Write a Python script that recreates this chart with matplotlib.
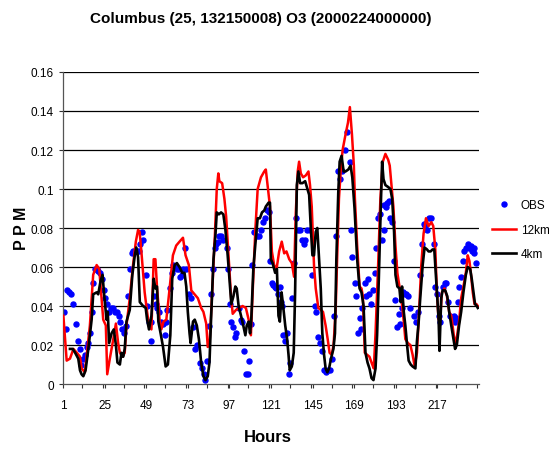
import matplotlib
matplotlib.use("Agg")
import matplotlib.pyplot as plt
from matplotlib.ticker import MultipleLocator, FixedLocator

plt.rcParams['font.family'] = ['Liberation Sans Narrow', 'Liberation Sans', 'DejaVu Sans']

# hours / ppm
hours_12km = [1.2, 3.1, 5, 7, 9, 10.8, 11.7, 13.6, 16.5, 18.4, 20.4, 21.9, 23.2, 24.2, 25.7, 26.5, 28, 30,
              31.5, 32.8, 33.8, 35.3, 36.6, 37.6, 39.5, 41.4, 43, 44.3, 45.2, 46.2, 48.1, 49.5, 50.6, 52,
              53.3, 54.3, 55.2, 56.7, 57.7, 59, 60.6, 62.5, 64.4, 66.3, 68.2, 70.2, 71.7, 73.6, 75, 76.9,
              78.8, 80.7, 82, 83.6, 84.5, 85.5, 87, 88.6, 89.7, 90.6, 91.2, 92.8, 94.1, 95.1, 96.6, 98,
              98.9, 100.8, 102.7, 104.6, 106.5, 108.1, 109.4, 110.4, 111.9, 113.3, 115.2, 117.1, 118, 119,
              120.4, 121.5, 122.8, 124.2, 125.7, 127.2, 128.6, 129.9, 131.5, 133, 134.3, 135.3, 136.4,
              137.2, 138.2, 139.5, 141.1, 142.6, 143.5, 144.5, 145.8, 146.8, 148.3, 149.7, 151, 152.5,
              153.7, 154.8, 156, 157.1, 158.3, 159.2, 160.2, 161.2, 162.3, 164, 165.4, 166.5, 167.7,
              168.8, 169.4, 170.7, 172.1, 173.2, 174, 175.1, 176.5, 177.8, 179.4, 180.3, 181.3, 182.8,
              184.1, 185.5, 187, 188.6, 189.5, 190.5, 191.6, 192.8, 193.9, 195.1, 196.2, 197.6, 198.5,
              200, 201.4, 202.7, 203.9, 205.2, 206.2, 207.7, 209, 210.4, 211.9, 213.5, 214.6, 215.8,
              216.7, 217.7, 218.6, 219.6, 221.1, 222.5, 223.8, 225, 226.3, 227.2, 228.4, 229.5, 230.7,
              232, 233.4, 234.5, 235.5, 236.4, 237.4, 238.4, 239.5, 240.3]
ppm_12km = [0.035, 0.012, 0.013, 0.018, 0.016, 0.014, 0.008, 0.006, 0.030, 0.056, 0.061, 0.059, 0.044, 0.033,
            0.030, 0.005, 0.013, 0.023, 0.031, 0.021, 0.016, 0.014, 0.016, 0.030, 0.044, 0.061, 0.073, 0.079,
            0.078, 0.068, 0.047, 0.037, 0.030, 0.028, 0.064, 0.064, 0.050, 0.033, 0.028, 0.032, 0.033, 0.049,
            0.066, 0.071, 0.073, 0.075, 0.066, 0.061, 0.048, 0.046, 0.044, 0.039, 0.037, 0.031, 0.019, 0.020,
            0.046, 0.076, 0.100, 0.108, 0.104, 0.103, 0.095, 0.086, 0.064, 0.044, 0.036, 0.038, 0.039, 0.040,
            0.039, 0.033, 0.025, 0.047, 0.078, 0.100, 0.106, 0.109, 0.110, 0.102, 0.091, 0.068, 0.061, 0.059,
            0.068, 0.073, 0.067, 0.068, 0.064, 0.062, 0.055, 0.088, 0.109, 0.114, 0.108, 0.106, 0.107, 0.109,
            0.102, 0.091, 0.061, 0.049, 0.039, 0.038, 0.037, 0.030, 0.023, 0.016, 0.015, 0.020, 0.038, 0.066,
            0.095, 0.109, 0.120, 0.128, 0.134, 0.142, 0.128, 0.112, 0.095, 0.071, 0.050, 0.049, 0.045, 0.016,
            0.015, 0.014, 0.010, 0.008, 0.026, 0.061, 0.095, 0.114, 0.118, 0.115, 0.112, 0.102, 0.091, 0.071,
            0.057, 0.050, 0.044, 0.032, 0.023, 0.021, 0.020, 0.015, 0.009, 0.016, 0.033, 0.061, 0.077, 0.085,
            0.081, 0.083, 0.081, 0.069, 0.047, 0.033, 0.033, 0.047, 0.049, 0.045, 0.037, 0.035, 0.026, 0.020,
            0.025, 0.032, 0.044, 0.050, 0.057, 0.066, 0.063, 0.056, 0.047, 0.041, 0.041, 0.040]

hours_4km = [5, 6.6, 8, 9.8, 10.8, 11.7, 12.7, 14, 15.6, 17.5, 18.4, 20.4, 21.3, 22.7, 23.8, 24.6, 26.1, 26.8,
             27.6, 29, 30.3, 31.5, 32.4, 33.8, 34.7, 35.7, 36.6, 37.6, 39.5, 41, 42.4, 43.3, 44.3, 45.3,
             47.2, 48.7, 49.5, 50.6, 52, 53.3, 54.3, 55.2, 56, 57.3, 58.7, 60.2, 61.5, 62.9, 64, 65.4, 66.7,
             68.2, 69.8, 71.1, 72.1, 73, 74, 74.6, 76, 77, 78.2, 79.4, 80.7, 82, 83.2, 84.5, 85.5, 86.4,
             87.8, 88.9, 89.7, 90.9, 92.2, 93.5, 94.7, 96, 97.4, 98.1, 99.3, 100.4, 101.2, 102.3, 103.7, 105,
             106.2, 107, 108.1, 108.9, 109.6, 110.8, 111.9, 113.3, 114.6, 115.8, 117.1, 118, 119.6, 120.4,
             120.9, 121.9, 123.4, 124.4, 125.3, 126.1, 127.1, 128, 129.2, 130.3, 131.1, 131.8, 133, 134.1,
             134.9, 135.9, 136.8, 137.8, 139.1, 140.7, 142, 143, 143.9, 144.9, 145.8, 146.8, 147.7, 148.7,
             149.7, 150.6, 151.6, 152.5, 153.5, 154.5, 155.6, 157, 157.9, 158.7, 159.8, 160.6, 161.7, 162.9,
             164, 165.6, 166.9, 167.9, 169.2, 170.7, 172.1, 173.2, 174.4, 175.5, 176.7, 177.8, 179, 180.1,
             181.3, 182.2, 183.2, 184.3, 185.1, 185.9, 187, 188.6, 189.9, 190.9, 192, 192.8, 193.9, 195.1,
             195.8, 196.6, 197.6, 198.5, 199.5, 200.4, 201.6, 202.7, 204.3, 205.2, 206.2, 207.1, 208.5,
             209.6, 211, 211.9, 213.1, 214.2, 215.2, 216.1, 216.9, 217.7, 218.2, 219.2, 220, 221.5, 222.7,
             223.8, 225, 226.3, 227.2, 228.2, 229.5, 230.7, 232, 233.4, 234.5, 235.9, 236.8, 237.8, 238.7,
             239.7, 240.3]
ppm_4km = [0.018, 0.018, 0.016, 0.013, 0.007, 0.005, 0.004, 0.007, 0.018, 0.033, 0.046, 0.047, 0.046, 0.053,
           0.056, 0.047, 0.033, 0.037, 0.021, 0.026, 0.028, 0.020, 0.011, 0.010, 0.016, 0.014, 0.018, 0.032,
           0.038, 0.056, 0.066, 0.070, 0.065, 0.042, 0.040, 0.039, 0.033, 0.028, 0.035, 0.054, 0.049, 0.050,
           0.032, 0.026, 0.019, 0.009, 0.010, 0.025, 0.054, 0.061, 0.062, 0.060, 0.057, 0.057, 0.050, 0.037,
           0.026, 0.021, 0.032, 0.033, 0.030, 0.023, 0.011, 0.004, 0.002, 0.004, 0.011, 0.033, 0.064, 0.076,
           0.088, 0.087, 0.088, 0.087, 0.079, 0.066, 0.049, 0.041, 0.045, 0.050, 0.049, 0.040, 0.035, 0.030,
           0.025, 0.030, 0.032, 0.026, 0.033, 0.059, 0.071, 0.085, 0.085, 0.088, 0.089, 0.091, 0.093, 0.093,
           0.064, 0.062, 0.057, 0.059, 0.035, 0.032, 0.047, 0.040, 0.030, 0.023, 0.015, 0.007, 0.009, 0.016,
           0.047, 0.102, 0.109, 0.103, 0.103, 0.104, 0.100, 0.097, 0.081, 0.066, 0.066, 0.078, 0.080, 0.064,
           0.049, 0.026, 0.015, 0.008, 0.006, 0.008, 0.013, 0.018, 0.026, 0.064, 0.098, 0.114, 0.117, 0.109,
           0.109, 0.110, 0.112, 0.106, 0.090, 0.064, 0.049, 0.047, 0.040, 0.016, 0.011, 0.008, 0.003, 0.002,
           0.008, 0.025, 0.054, 0.090, 0.114, 0.105, 0.102, 0.101, 0.100, 0.095, 0.078, 0.056, 0.050, 0.049,
           0.042, 0.050, 0.037, 0.030, 0.020, 0.012, 0.010, 0.009, 0.008, 0.022, 0.032, 0.044, 0.061, 0.070,
           0.069, 0.068, 0.068, 0.069, 0.069, 0.056, 0.044, 0.033, 0.017, 0.044, 0.048, 0.048, 0.045, 0.037,
           0.030, 0.023, 0.018, 0.020, 0.030, 0.037, 0.047, 0.056, 0.060, 0.059, 0.054, 0.047, 0.041, 0.040,
           0.039]

hours_obs = [1.6, 2.5, 3.5, 4.6, 5.8, 6.6, 8.3, 9.8, 10.8, 11.5, 12.7, 13.6, 14.6, 15.4, 16.5, 17.7, 18.2, 19.2,
             20.4, 21.3, 22.5, 23.4, 24.4, 25.3, 26.3, 27.4, 28.6, 30, 30.9, 32.2, 33.4, 34.1, 35.3, 36.4,
             37.2, 38.6, 39.5, 40.7, 41.4, 42.6, 43.7, 44.9, 45.3, 46.4, 47.4, 48.7, 49.5, 50.6, 51.6, 52,
             53.3, 54.4, 55.4, 56.4, 57.3, 58.7, 59.6, 60.2, 61.2, 62.5, 63.6, 64.4, 65.6, 66.7, 67.9, 68.6,
             69.4, 70.5, 71.1, 72.1, 73.6, 74.8, 76, 77.3, 78.2, 80.1, 81.3, 82.6, 83.2, 84.1, 85.3, 86.4,
             87.4, 88.4, 89.3, 90.3, 91.2, 92.2, 93.5, 95.4, 96.4, 97.4, 98.1, 99.3, 100.1, 100.8, 102.3,
             103.7, 104.3, 105.2, 106.6, 107.5, 108.1, 109.4, 110, 111.3, 112.7, 113.8, 115.2, 116.5, 117.5,
             118.4, 119.6, 120.4, 121.3, 122.3, 123.2, 124, 125.2, 126, 126.6, 127.6, 128.2, 129.2, 130.1,
             131.1, 131.8, 133, 134.1, 135.3, 136.6, 137.8, 139.1, 139.9, 140.7, 142, 143.3, 144.9, 146.2,
             147.2, 147.9, 149.1, 150.2, 151.8, 152.9, 153.9, 154.8, 156, 157.1, 158.3, 159.6, 160.8, 162.1,
             163.6, 165, 166.3, 166.9, 167.9, 169.2, 170.2, 170.9, 172.1, 173, 173.6, 175, 175.9, 177.1,
             177.8, 178.8, 179.9, 180.9, 181.8, 182.8, 183.8, 185.1, 185.9, 186.4, 187.4, 188.2, 189.1,
             189.7, 190.9, 192, 192.8, 193.7, 194.7, 195.6, 196.6, 197.4, 198.1, 198.9, 200, 201.4, 203.3,
             204.6, 205.8, 206.9, 208.1, 209, 210, 211, 212.3, 213.5, 215, 215.4, 216.7, 217.7, 218.6, 220,
             221.1, 221.9, 223, 224.4, 225.3, 226.3, 227.2, 227.6, 228.8, 229.5, 230.7, 231.8, 232.6, 233.6,
             234.5, 235.3, 236.2, 237.2, 238.2, 238.4, 239.5]
ppm_obs = [0.037, 0.028, 0.048, 0.047, 0.046, 0.041, 0.031, 0.022, 0.018, 0.010, 0.013, 0.015, 0.019, 0.021,
           0.026, 0.037, 0.052, 0.059, 0.059, 0.058, 0.057, 0.054, 0.048, 0.044, 0.041, 0.037, 0.039, 0.039,
           0.037, 0.037, 0.035, 0.032, 0.028, 0.026, 0.030, 0.045, 0.059, 0.067, 0.068, 0.068, 0.068, 0.068,
           0.072, 0.078, 0.074, 0.056, 0.040, 0.032, 0.022, 0.032, 0.045, 0.041, 0.039, 0.037, 0.032, 0.031,
           0.025, 0.032, 0.038, 0.049, 0.057, 0.061, 0.060, 0.059, 0.059, 0.055, 0.056, 0.059, 0.070, 0.059,
           0.046, 0.044, 0.029, 0.018, 0.020, 0.011, 0.008, 0.005, 0.002, 0.012, 0.030, 0.046, 0.059, 0.070,
           0.072, 0.073, 0.076, 0.076, 0.074, 0.070, 0.059, 0.041, 0.032, 0.029, 0.024, 0.026, 0.039, 0.033,
           0.032, 0.017, 0.005, 0.005, 0.012, 0.031, 0.061, 0.078, 0.076, 0.076, 0.079, 0.083, 0.085, 0.089,
           0.088, 0.063, 0.052, 0.051, 0.050, 0.049, 0.046, 0.050, 0.042, 0.040, 0.025, 0.022, 0.026, 0.005,
           0.011, 0.044, 0.062, 0.085, 0.079, 0.079, 0.074, 0.072, 0.074, 0.079, 0.079, 0.056, 0.040, 0.037,
           0.024, 0.021, 0.017, 0.007, 0.006, 0.007, 0.007, 0.013, 0.035, 0.076, 0.109, 0.105, 0.109, 0.120,
           0.129, 0.114, 0.079, 0.065, 0.052, 0.045, 0.026, 0.034, 0.028, 0.039, 0.052, 0.045, 0.054, 0.046,
           0.041, 0.048, 0.057, 0.070, 0.085, 0.087, 0.074, 0.079, 0.092, 0.091, 0.093, 0.094, 0.085, 0.083,
           0.063, 0.043, 0.029, 0.036, 0.031, 0.039, 0.047, 0.046, 0.046, 0.045, 0.039, 0.035, 0.032, 0.037,
           0.056, 0.072, 0.082, 0.081, 0.079, 0.085, 0.085, 0.072, 0.050, 0.046, 0.035, 0.032, 0.050, 0.052,
           0.052, 0.042, 0.035, 0.034, 0.035, 0.032, 0.034, 0.042, 0.050, 0.055, 0.063, 0.068, 0.070, 0.072,
           0.070, 0.071, 0.068, 0.070, 0.067, 0.062]

tick_hours = [1, 25, 49, 73, 97, 121, 145, 169, 193, 217]
ppm_ticks = [0, 0.02, 0.04, 0.06, 0.08, 0.10, 0.12, 0.14, 0.16]
ppm_tick_labels = ['0', '0.02', '0.04', '0.06', '0.08', '0.1', '0.12', '0.14', '0.16']

fig = plt.figure(figsize=(5.49, 4.52), dpi=100)
ax = fig.add_axes([0.1148, 0.1482, 0.7577, 0.6903])

# horizontal gridlines like the spreadsheet chart
for g in ppm_ticks[1:]:
    ax.axhline(g, color='black', lw=0.9, zorder=0)

ax.plot(hours_obs, ppm_obs, 'o', color='#0000ff', ms=3.6, mec='#0000ff', label='OBS', zorder=2)
ax.plot(hours_12km, ppm_12km, color='#ff0000', lw=1.8, label='12km', zorder=3)
ax.plot(hours_4km, ppm_4km, color='black', lw=1.9, label='4km', zorder=4)

ax.set_xlim(1, 241)
ax.set_ylim(0, 0.16)
ax.xaxis.set_major_locator(FixedLocator(tick_hours))
ax.xaxis.set_minor_locator(MultipleLocator(12))
ax.set_xticklabels([str(h) for h in tick_hours])
ax.set_yticks(ppm_ticks)
ax.set_yticklabels(ppm_tick_labels)
ax.tick_params(axis='both', labelsize=8.5, direction='out', length=3, width=0.8, color='#333333')
ax.tick_params(axis='x', which='minor', length=3, width=0.8, color='#333333')
ax.tick_params(axis='x', pad=8)
for s in ['top', 'right']:
    ax.spines[s].set_visible(False)
for s in ['left', 'bottom']:
    ax.spines[s].set_color('#555555')
    ax.spines[s].set_linewidth(0.9)

fig.text(0.475, 0.958, 'Columbus (25, 132150008) O3 (2000224000000)', ha='center', va='center',
         fontsize=11, fontweight='bold')
fig.text(0.488, 0.033, 'Hours', ha='center', va='center', fontsize=12, fontweight='bold')
fig.text(0.04, 0.495, 'P P M', ha='center', va='center', rotation=90, fontsize=11.5, fontweight='bold')

fig.legend(loc='upper left', bbox_to_anchor=(0.888, 0.567), frameon=False, fontsize=8.5,
           handlelength=2.0, handletextpad=0.4, labelspacing=1.05, borderaxespad=0)

fig.savefig('out.png', dpi=100)
